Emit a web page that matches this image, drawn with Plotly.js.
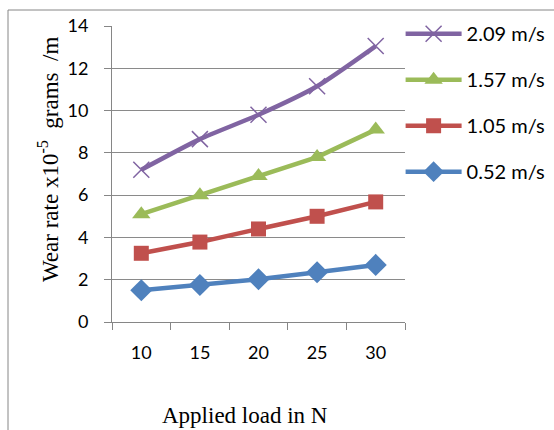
<!DOCTYPE html>
<html><head><meta charset="utf-8">
<script src="https://cdn.plot.ly/plotly-3.0.1.min.js"></script>
<style>html,body{margin:0;padding:0;background:#fff}#c{width:554px;height:430px}</style>
</head><body><div id="c"></div>
<script>
const loads = ["10","15","20","25","30"];
const names = ["2.09 m/s","1.57 m/s","1.05 m/s","0.52 m/s"];
const v209 = [7.2, 8.65, 9.8, 11.15, 13.05];
const v157 = [5.1, 6.0, 6.9, 7.8, 9.1];
const v105 = [3.25, 3.78, 4.4, 5.0, 5.68];
const v052 = [1.5, 1.75, 2.02, 2.35, 2.7];
const xTitle = 'Applied load in N';
const yTitle = 'Wear rate x10<sup>-5</sup>  grams  /m';

const series = [v209, v157, v105, v052];
const colors = ["#8064A2","#9BBB59","#C0504D","#4F81BD"];
const symbols = ["x-thin-open","triangle-up","square","diamond"];
const msize = [16,16,15,17];

const traces = series.map((s,i)=>({
  x: loads, y: s, name: names[i], type:'scatter', mode:'lines+markers',
  legendgroup: 'g'+i,
  line:{color:colors[i], width:4.5, shape: i===0 ? 'spline':'linear', smoothing:0.6},
  marker:{symbol:symbols[i], size:msize[i], color:colors[i], line:{color:colors[i], width: i===0?1.5:0}}
}));

const serif = '"Liberation Serif", "Times New Roman", serif';
const layout = {
  width:554, height:430,
  margin:{l:112, r:149, t:26, b:108, autoexpand:false},
  paper_bgcolor:'#fff', plot_bgcolor:'#fff',
  font:{family:'Lato, "Open Sans", sans-serif', size:18, color:'#000'},
  showlegend:true,
  legend:{x:0.985, xanchor:'left', y:1.04, yanchor:'top', traceorder:'grouped', tracegroupgap:17,
    itemwidth:56,
    font:{size:20, family:'Lato, sans-serif'}, bgcolor:'rgba(0,0,0,0)'},
  xaxis:{type:'category', range:[-0.5,4.5], tickson:'boundaries', ticks:'outside', ticklen:7,
    tickcolor:'#868686', showline:true, linecolor:'#868686', linewidth:1, showgrid:false,
    tickfont:{size:18, family:'Lato, sans-serif'}, zeroline:false, ticklabelstandoff:14},
  yaxis:{range:[0,14], dtick:2, ticks:'outside', ticklen:7, tickcolor:'#868686',
    showline:true, linecolor:'#868686', linewidth:1, gridcolor:'#8a8a8a', gridwidth:1, zeroline:false,
    tickfont:{size:18, family:'Lato, sans-serif'}, ticklabelstandoff:12},
  annotations:[
    {text:xTitle, xref:'paper', yref:'paper', x:(245-112)/293, y:(322-415)/296, xanchor:'center', yanchor:'middle',
     showarrow:false, font:{family:serif, size:23}},
    {text:yTitle, xref:'paper', yref:'paper', x:(48-112)/293, y:(322-160)/296, xanchor:'center', yanchor:'middle',
     textangle:-90, showarrow:false, font:{family:serif, size:23}}
  ],
  shapes:[{type:'rect', xref:'paper', yref:'paper', x0:(8-112)/293, x1:(560-112)/293, y0:(322-440)/296, y1:(322-10)/296,
    line:{color:'#868686', width:1}, fillcolor:'rgba(0,0,0,0)', layer:'below'}]
};
Plotly.newPlot('c', traces, layout, {displayModeBar:false, staticPlot:true});
</script></body></html>
